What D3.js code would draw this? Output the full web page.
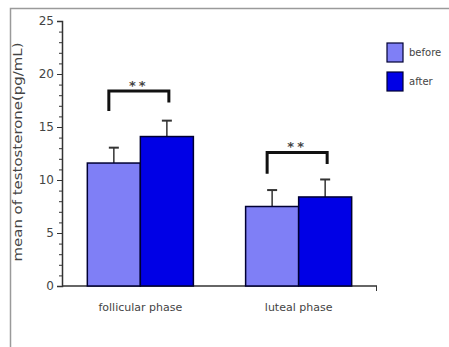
<!DOCTYPE html>
<html>
<head>
<meta charset="utf-8">
<script src="https://cdn.jsdelivr.net/npm/d3@7"></script>
<style>
    body { margin: 0; background: #fff; }
    text { font-family: "DejaVu Sans", Verdana, sans-serif; fill: #444; }
</style>
</head>
<body>
<div id="chart"></div>
<script>

// --- Daten ---------------------------------------------------------------- //

var phases = ['follicular phase', 'luteal phase'];
var seriesNames = ['before', 'after'];
var beforeValues = [11.6, 7.5];
var afterValues = [14.1, 8.4];
var beforeErrors = [1.45, 1.55];
var afterErrors = [1.5, 1.65];
var yTicks = [0, 5, 10, 15, 20, 25];
// Signifikanz-Klammern: oben, linkes Bein, rechtes Bein
var bracketTop = [18.4, 12.6];
var bracketLeft = [16.5, 10.6];
var bracketRight = [17.3, 11.5];
var sigLabel = ['**', '**'];

var colors = ['#7f7ff6', '#0000e6'];

// --- Rahmen + Skalen ------------------------------------------------------ //

var width = 449, height = 347;

var svg = d3.select('#chart').append('svg')
    .attr('width', width)
    .attr('height', height);

svg.append('rect')
    .attr('x', 10.5).attr('y', 8.5)
    .attr('width', 460).attr('height', 360)
    .attr('fill', 'none')
    .attr('stroke', '#9a9a9a')
    .attr('stroke-width', 1.5);

var x0 = d3.scaleBand()
    .domain(phases)
    .range([62, 377])
    .paddingInner(0.33)
    .paddingOuter(0.16);

var x1 = d3.scaleBand()
    .domain(seriesNames)
    .range([0, x0.bandwidth()]);

var y = d3.scaleLinear()
    .domain([0, 25])
    .range([286, 21]);

// --- Achsen --------------------------------------------------------------- //

var yAxis = svg.append('g')
    .attr('transform', 'translate(62,0)')
    .call(d3.axisLeft(y).tickValues(yTicks).tickSize(5).tickPadding(3));

yAxis.select('.domain').attr('stroke', '#333').attr('stroke-width', 1.5);
yAxis.selectAll('.tick line').attr('stroke', '#333');
yAxis.selectAll('.tick text').style('font-size', '12px').attr('fill', '#555');

var minor = svg.append('g')
    .attr('transform', 'translate(62,0)')
    .call(d3.axisLeft(y).tickValues(d3.range(0, 26)).tickSize(3).tickFormat(''));
minor.select('.domain').remove();
minor.selectAll('.tick line').attr('stroke', '#333');

var xAxis = svg.append('g')
    .attr('transform', 'translate(0,286)');

xAxis.append('line')
    .attr('x1', 62).attr('x2', 377)
    .attr('stroke', '#333').attr('stroke-width', 1.5);
xAxis.append('line')
    .attr('x1', 376.5).attr('x2', 376.5)
    .attr('y1', 0).attr('y2', 5)
    .attr('stroke', '#333');

xAxis.selectAll('text.cat')
    .data(phases)
    .enter().append('text')
    .attr('class', 'cat')
    .attr('x', function (d) { return x0(d) + x0.bandwidth() / 2; })
    .attr('y', 25)
    .attr('text-anchor', 'middle')
    .style('font-size', '11px')
    .text(function (d) { return d; });

svg.append('text')
    .attr('transform', 'translate(22,152) rotate(-90)')
    .attr('text-anchor', 'middle')
    .style('font-size', '13px')
    .attr('textLength', 219)
    .attr('lengthAdjust', 'spacingAndGlyphs')
    .text('mean of testosterone(pg/mL)');

// --- Balken --------------------------------------------------------------- //

var rows = phases.map(function (p, i) {
    return [
        { phase: p, s: 'before', v: beforeValues[i], e: beforeErrors[i], c: colors[0] },
        { phase: p, s: 'after', v: afterValues[i], e: afterErrors[i], c: colors[1] }
    ];
});

var groups = svg.selectAll('g.phase')
    .data(rows)
    .enter().append('g')
    .attr('class', 'phase')
    .attr('transform', function (d, i) { return 'translate(' + x0(phases[i]) + ',0)'; });

// Fehlerbalken (hinter den Balken)
groups.selectAll('line.err')
    .data(function (d) { return d; })
    .enter().append('line')
    .attr('class', 'err')
    .attr('x1', function (d) { return x1(d.s) + x1.bandwidth() / 2; })
    .attr('x2', function (d) { return x1(d.s) + x1.bandwidth() / 2; })
    .attr('y1', function (d) { return y(d.v); })
    .attr('y2', function (d) { return y(d.v + d.e); })
    .attr('stroke', '#333').attr('stroke-width', 1.5);

groups.selectAll('line.cap')
    .data(function (d) { return d; })
    .enter().append('line')
    .attr('class', 'cap')
    .attr('x1', function (d) { return x1(d.s) + x1.bandwidth() / 2 - 5; })
    .attr('x2', function (d) { return x1(d.s) + x1.bandwidth() / 2 + 5; })
    .attr('y1', function (d) { return y(d.v + d.e); })
    .attr('y2', function (d) { return y(d.v + d.e); })
    .attr('stroke', '#333').attr('stroke-width', 2);

groups.selectAll('rect')
    .data(function (d) { return d; })
    .enter().append('rect')
    .attr('x', function (d) { return x1(d.s); })
    .attr('y', function (d) { return y(d.v); })
    .attr('width', x1.bandwidth())
    .attr('height', function (d) { return y(0) - y(d.v); })
    .attr('fill', function (d) { return d.c; })
    .attr('stroke', '#000033')
    .attr('stroke-width', 1.5);

// --- Klammern -------------------------------------------------------------- //

phases.forEach(function (p, i) {
    var xl = x0(p) + x1('before') + x1.bandwidth() / 2 - 5;
    var xr = x0(p) + x1('after') + x1.bandwidth() / 2 + 2;

    svg.append('path')
        .attr('d', 'M' + xl + ',' + y(bracketLeft[i]) +
                   'V' + y(bracketTop[i]) +
                   'H' + xr +
                   'V' + y(bracketRight[i]))
        .attr('fill', 'none')
        .attr('stroke', '#111')
        .attr('stroke-width', 3);

    svg.append('text')
        .attr('x', (xl + xr) / 2)
        .attr('y', y(bracketTop[i]) - 1)
        .attr('text-anchor', 'middle')
        .style('font-size', '13px')
        .style('font-weight', 'bold')
        .style('letter-spacing', '3px')
        .attr('fill', '#333')
        .text(sigLabel[i]);
});

// --- Legende --------------------------------------------------------------- //

var legend = svg.append('g')
    .attr('transform', 'translate(387,43)');

seriesNames.forEach(function (s, i) {
    legend.append('rect')
        .attr('x', 0).attr('y', i * 29)
        .attr('width', 16).attr('height', 19)
        .attr('fill', colors[i])
        .attr('stroke', '#000033')
        .attr('stroke-width', 1.2);

    legend.append('text')
        .attr('x', 22).attr('y', i * 29 + 13)
        .style('font-size', '10px')
        .attr('fill', '#555')
        .text(s);
});

</script>
</body>
</html>
